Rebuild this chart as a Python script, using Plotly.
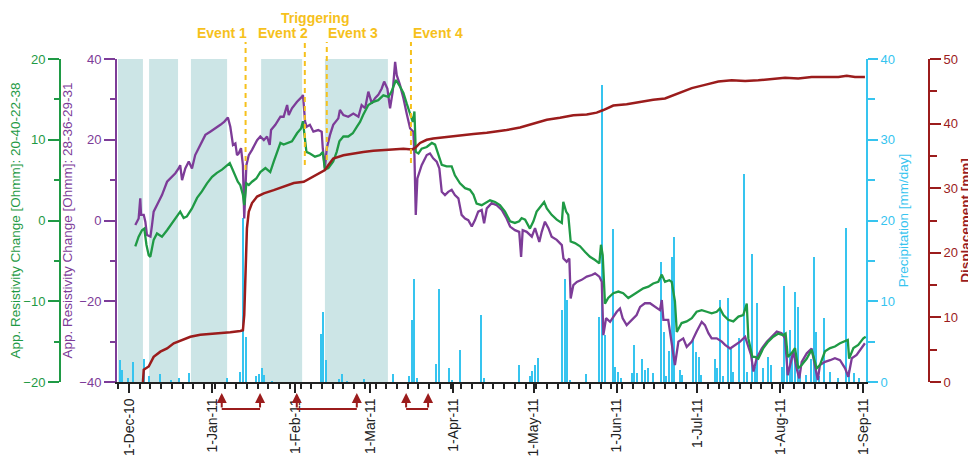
import pandas as pd
import plotly.graph_objects as go

# days counted from 1-Dec-10
BASE = pd.Timestamp("2010-12-01")
DAY_MS = 86400000

PURPLE = "#7d3c98"
GREEN = "#1f9a45"
CYAN = "#36c4ef"
RED = "#9b1c1c"
GOLD = "#f6c11c"
SHADE = "#cce5e6"

# App. resistivity change 28-36-29-31 (left inner axis)
purple = [
    (2.35, -1.1), (3.6, 0.5), (4.2, 5.5), (4.5, 1.4), (5.5, 1.4), (6.1, -0.3), (6.7, -3.6), (8.0, -4.0), (8.6, -1.1), (9.2, 2.2),
    (11.1, 4.7), (12.3, 6.3), (14.2, 9.6), (15.4, 10.4), (17.3, 11.7), (18.5, 12.9), (19.1, 13.7), (19.8, 10.0), (21.0, 12.9), (22.3, 14.6),
    (23.5, 12.9), (24.7, 16.2), (26.6, 18.7), (28.5, 21.2), (30.3, 22.0), (32.2, 22.8), (34.1, 23.7), (35.6, 24.5), (36.9, 25.5), (37.8, 23.2),
    (38.8, 18.7), (39.7, 19.1), (40.3, 16.2), (40.9, 16.6), (41.8, 17.9), (42.5, 13.7), (43.0, 0.5), (43.8, 13.7), (44.7, 16.2), (45.9, 17.5),
    (47.8, 19.9), (49.0, 20.8), (50.3, 19.9), (51.5, 20.8), (52.5, 18.7), (53.0, 22.4), (54.6, 23.7), (56.5, 25.7), (57.7, 25.7), (59.0, 28.6),
    (59.6, 26.1), (60.8, 27.8), (62.7, 29.4), (64.6, 30.7), (64.9, 31.1), (65.7, 24.5), (66.3, 23.2), (67.5, 23.7), (68.8, 22.0), (70.6, 22.4),
    (71.9, 22.0), (72.3, 17.9), (73.1, 12.9), (73.8, 17.9), (75.0, 21.2), (76.2, 23.7), (78.1, 25.3), (78.7, 27.4), (80.0, 26.1), (81.8, 25.7),
    (83.7, 26.5), (85.6, 25.7), (86.8, 28.6), (88.1, 27.8), (89.3, 31.9), (90.6, 29.0), (91.8, 30.3), (93.0, 31.1), (94.3, 32.7), (95.2, 34.4),
    (96.4, 32.7), (97.4, 27.8), (98.4, 31.9), (99.3, 39.3), (99.9, 36.0), (101.1, 33.6), (102.4, 30.3), (103.6, 26.5), (104.9, 22.8), (106.1, 22.0),
    (106.5, 16.2), (107.0, 1.4), (107.6, 10.4), (109.2, 13.7), (111.1, 16.2), (112.3, 16.6), (113.5, 15.4), (114.8, 14.6), (115.8, 12.9), (116.7, 7.1),
    (117.9, 6.3), (119.1, 7.1), (120.4, 7.6), (121.6, 6.3), (122.9, 5.5), (124.1, 1.4), (125.4, 0.5), (126.6, 0.1), (127.9, -1.5), (129.1, 0.1),
    (130.3, 2.2), (131.6, 2.6), (132.5, -0.7), (133.5, 3.0), (135.3, 4.3), (137.2, 3.8), (139.1, 2.6), (140.9, 0.5), (142.2, -1.5), (144.0, -2.4),
    (145.6, -2.8), (146.3, -9.0), (146.9, -2.4), (148.4, -2.8), (150.3, -4.0), (151.5, -1.9), (153.1, -5.3), (154.0, -2.8), (155.2, -0.3), (156.5, -1.9),
    (157.7, -4.0), (159.6, -4.8), (161.5, -6.1), (162.1, -9.4), (163.3, -10.2), (164.3, -9.4), (164.8, -19.3), (165.8, -16.0), (167.1, -15.2), (168.9, -14.7),
    (170.8, -13.9), (172.7, -13.5), (173.9, -13.1), (175.5, -13.9), (176.4, -15.2), (177.0, -28.4), (178.0, -24.2), (179.5, -25.1), (180.7, -23.8), (182.0, -22.6),
    (183.2, -21.8), (184.2, -24.2), (185.7, -25.9), (187.6, -24.6), (189.4, -23.4), (190.7, -21.4), (192.5, -20.5), (194.4, -20.5), (196.3, -21.4), (198.1, -22.2),
    (198.8, -19.7), (199.4, -24.6), (201.2, -24.6), (202.5, -30.0), (203.7, -35.8), (205.0, -30.0), (206.8, -29.2), (208.1, -31.3), (210.0, -30.0), (211.8, -27.5),
    (213.7, -25.1), (214.9, -25.9), (216.2, -27.9), (217.4, -29.2), (219.3, -29.2), (221.2, -30.0), (222.4, -30.8), (224.3, -31.7), (226.1, -30.8), (228.0, -30.0),
    (229.9, -28.8), (230.9, -30.8), (232.1, -33.3), (233.0, -37.4), (234.2, -34.1), (236.1, -31.7), (238.0, -30.0), (239.8, -28.8), (241.7, -27.5), (243.5, -27.9),
    (244.8, -29.2), (245.8, -38.3), (246.6, -36.2), (247.9, -32.5), (249.1, -36.6), (250.1, -39.1), (251.0, -35.0), (252.9, -32.9), (254.7, -31.7), (256.0, -36.6),
    (257.0, -39.5), (257.8, -35.8), (259.7, -35.0), (261.6, -34.6), (263.4, -34.1), (265.3, -34.6), (267.2, -36.6), (268.4, -38.7), (269.7, -34.1), (271.5, -33.3),
    (273.4, -31.7), (274.6, -30.4),
]

# App. resistivity change 20-40-22-38 (left outer axis)
green = [
    (2.35, -3.2), (3.6, -2.0), (4.85, -1.2), (5.7, -1.0), (6.5, -3.0), (7.35, -4.3), (7.95, -4.5), (9.2, -2.4), (10.45, -1.6), (12.3, -2.0),
    (14.2, -1.2), (16.0, -0.3), (17.9, 0.5), (19.1, 1.1), (20.4, 0.3), (21.6, 0.5), (23.5, 1.5), (25.4, 2.8), (27.2, 3.6), (29.1, 4.6),
    (31.0, 5.4), (32.8, 5.9), (34.7, 6.3), (36.6, 6.9), (37.6, 7.1), (38.4, 6.5), (39.7, 5.6), (40.6, 4.8), (41.5, 4.4), (42.5, 3.2),
    (43.0, 1.9), (43.8, 4.6), (44.7, 4.4), (45.9, 4.8), (47.5, 5.2), (49.0, 6.0), (50.9, 6.5), (52.7, 6.0), (54.0, 7.3), (55.5, 8.7),
    (56.5, 9.6), (57.7, 9.4), (59.0, 9.6), (60.8, 9.8), (62.7, 10.8), (64.2, 11.4), (64.9, 12.3), (65.75, 10.2), (66.2, 8.5), (67.5, 8.3),
    (69.4, 7.9), (71.3, 8.1), (72.3, 8.5), (73.1, 6.3), (74.4, 6.5), (76.2, 7.3), (77.5, 8.5), (78.5, 9.8), (80.0, 10.4), (81.8, 10.4),
    (83.5, 10.8), (85.0, 11.6), (86.2, 12.2), (87.4, 13.1), (89.3, 14.3), (91.2, 14.7), (93.0, 14.9), (94.9, 15.5), (96.8, 15.3), (98.0, 16.0),
    (99.6, 17.4), (101.1, 16.6), (102.4, 15.8), (103.6, 14.5), (104.9, 13.1), (105.9, 12.2), (106.5, 13.5), (107.0, 8.5), (108.0, 8.3), (109.2, 8.9),
    (111.1, 9.1), (113.0, 9.6), (114.2, 9.4), (115.4, 8.1), (116.7, 6.9), (118.5, 6.7), (120.4, 6.7), (121.6, 5.6), (123.5, 4.6), (125.4, 4.0),
    (127.2, 3.8), (128.5, 3.2), (129.7, 2.1), (131.6, 1.9), (133.5, 2.3), (134.7, 2.5), (136.6, 2.3), (138.4, 1.9), (140.3, 1.1), (142.2, -0.1),
    (144.0, -0.3), (145.6, -0.1), (146.5, 0.3), (147.8, 0.1), (149.6, -1.0), (150.9, -0.1), (152.1, 1.1), (153.4, 1.7), (154.9, 2.3), (155.9, 1.5),
    (157.7, 0.7), (159.6, 0.1), (161.5, -0.3), (162.05, 2.3), (163.1, 1.1), (163.9, 0.7), (164.8, -2.6), (166.4, -2.8), (168.3, -3.2), (170.2, -3.9),
    (172.0, -4.5), (173.9, -4.9), (175.5, -5.3), (176.1, -3.0), (176.75, -4.3), (177.6, -10.3), (178.8, -9.6), (180.7, -9.0), (182.6, -8.8), (184.4, -9.0),
    (186.3, -9.6), (188.2, -9.2), (190.0, -8.8), (191.9, -8.4), (193.8, -8.2), (195.6, -7.8), (197.5, -7.6), (198.8, -6.7), (200.0, -7.6), (201.6, -7.4),
    (202.5, -7.6), (203.7, -10.0), (204.4, -13.8), (206.2, -12.7), (208.1, -12.5), (210.0, -12.1), (211.8, -11.3), (213.7, -11.1), (215.6, -11.3), (217.4, -11.5),
    (219.3, -11.3), (220.5, -10.9), (221.8, -11.7), (223.6, -12.3), (225.5, -12.5), (227.4, -11.9), (229.2, -11.7), (230.5, -10.3), (231.1, -14.6), (232.6, -16.9),
    (233.6, -16.9), (234.8, -17.1), (236.7, -15.8), (238.5, -15.0), (240.4, -14.4), (242.3, -14.0), (244.1, -14.2), (245.0, -14.0), (245.8, -16.9), (247.3, -16.4),
    (248.5, -15.8), (249.7, -18.3), (251.0, -17.9), (252.9, -17.1), (254.7, -16.0), (256.6, -18.3), (257.8, -17.9), (259.7, -16.2), (261.6, -15.8), (263.4, -15.6),
    (265.3, -15.2), (267.2, -15.0), (268.2, -14.8), (268.7, -17.1), (270.3, -15.8), (272.1, -15.4), (274.0, -14.6), (274.9, -14.4),
]

# displacement [mm] (right outer axis)
red = [
    (5.2, 0.0), (5.5, 1.9), (7.35, 2.4), (9.2, 3.9), (11.7, 4.7), (14.2, 5.2), (16.7, 6.0), (19.8, 6.5), (22.9, 7.0), (26.6, 7.3),
    (30.3, 7.4), (34.1, 7.5), (37.8, 7.7), (41.5, 7.9), (42.5, 8.0), (43.0, 10.4), (43.4, 17.1), (44.0, 23.8), (44.7, 26.4), (45.9, 27.7),
    (47.8, 28.7), (50.3, 29.2), (54.0, 29.7), (57.7, 30.2), (61.5, 30.8), (65.2, 31.0), (68.8, 31.8), (71.3, 32.3), (73.1, 32.8), (74.4, 33.6),
    (76.2, 34.6), (80.0, 35.1), (83.7, 35.4), (87.4, 35.6), (91.2, 35.8), (94.9, 35.9), (98.6, 36.0), (102.4, 36.1), (105.5, 36.0), (106.7, 36.2),
    (108.6, 37.0), (111.1, 37.5), (113.5, 37.7), (117.3, 37.9), (121.0, 38.1), (124.7, 38.2), (128.5, 38.4), (133.5, 38.6), (135.9, 38.7), (140.9, 39.0),
    (145.9, 39.4), (150.9, 40.0), (155.9, 40.6), (160.8, 40.9), (165.8, 41.3), (170.8, 41.4), (174.5, 41.7), (177.0, 42.1), (180.7, 42.8), (185.7, 43.0),
    (190.7, 43.4), (195.6, 43.7), (200.0, 43.9), (205.0, 44.7), (210.0, 45.5), (214.9, 46.0), (219.9, 46.5), (224.9, 46.7), (229.9, 46.6), (234.8, 46.7),
    (239.8, 46.9), (244.8, 47.1), (249.7, 47.0), (254.7, 47.2), (259.7, 47.2), (264.7, 47.2), (267.8, 47.4), (270.9, 47.2), (274.6, 47.2),
]

# daily precipitation [mm/day]
rain = [
    (-4, 2.7), (-3, 1.5), (-1, 0.5), (1, 2.5), (5, 2.8), (7, 0.8), (11, 1.0), (15, 0.2), (18, 0.5), (22, 1.1),
    (36, 0.5), (41, 1.3), (42, 20.3), (43, 5.6), (47, 0.7), (48, 1.0), (49, 1.7), (50, 0.9), (53, 0.1), (71, 6.0),
    (72, 8.7), (73, 2.7), (78, 0.4), (79, 1.0), (81, 0.1), (87, 0.4), (98, 1.0), (104, 0.8), (105, 7.7), (106, 12.8),
    (107, 0.5), (114, 2.2), (115, 11.5), (119, 1.7), (120, 0.2), (123, 4.0), (131, 8.3), (132, 0.5), (145, 2.1), (149, 0.7),
    (150, 1.4), (151, 2.1), (152, 3.0), (161, 8.9), (162, 12.8), (163, 10.2), (164, 0.2), (170, 1.0), (175, 8.1), (176, 36.8),
    (177, 5.8), (180, 19.0), (181, 1.9), (182, 1.3), (183, 0.5), (187, 1.1), (188, 4.6), (189, 1.1), (191, 2.9), (192, 1.5),
    (193, 1.7), (195, 1.1), (198, 14.8), (199, 6.2), (200, 0.7), (201, 3.8), (202, 15.5), (203, 17.9), (205, 1.5), (206, 0.9),
    (210, 5.2), (211, 3.7), (212, 3.1), (213, 0.9), (218, 2.9), (219, 1.7), (220, 10.2), (221, 0.7), (223, 10.4), (224, 4.2),
    (225, 1.3), (227, 5.4), (229, 25.8), (230, 1.3), (232, 15.8), (233, 1.9), (234, 9.8), (236, 1.7), (238, 3.1), (239, 2.1),
    (243, 1.9), (244, 11.9), (245, 4.5), (246, 6.4), (247, 3.3), (248, 11.1), (249, 9.3), (250, 1.5), (252, 0.9), (254, 2.9),
    (255, 15.5), (256, 6.2), (257, 0.7), (259, 7.9), (261, 1.3), (264, 0.5), (267, 19.1), (268, 1.5), (270, 1.1), (272, 0.5),
]

# shaded periods and events
shade_periods = [(-4.1, 5.2), (7.5, 18.3), (23.1, 36.6), (49.3, 64.6), (73.1, 96.6)]
event_names = ["Event 1", "Event 2", "Event 3", "Event 4"]
event_days = [43.5, 65.6, 73.8, 105.2]
event_line_bottom = [0.656, 0.672, 0.687, 0.678]
bracket_spans = [(34.6, 48.9), (62.6, 85.0), (103.4, 111.6)]


def to_dates(days):
    return BASE + pd.to_timedelta(list(days), unit="D")


def split(pairs):
    return to_dates([p[0] for p in pairs]), [p[1] for p in pairs]


fig = go.Figure()

rx, ry = split(rain)
fig.add_trace(go.Bar(x=rx, y=ry, yaxis="y", marker_color=CYAN, marker_line_width=0,
                     width=0.75 * DAY_MS, xperiod=DAY_MS, xperiodalignment="middle"))

px_, py_ = split(purple)
fig.add_trace(go.Scatter(x=px_, y=py_, yaxis="y2", mode="lines", line=dict(color=PURPLE, width=2.3)))

gx, gy = split(green)
fig.add_trace(go.Scatter(x=gx, y=gy, yaxis="y3", mode="lines", line=dict(color=GREEN, width=2.3)))

dx, dy = split(red)
fig.add_trace(go.Scatter(x=dx, y=dy, yaxis="y4", mode="lines", line=dict(color=RED, width=2.5)))

shapes = []
for a, b in shade_periods:
    xa, xb = to_dates([a, b])
    shapes.append(dict(type="rect", xref="x", yref="paper", x0=xa, x1=xb, y0=0, y1=1,
                       fillcolor=SHADE, line_width=0, layer="below"))

annotations = []
ev_dates = to_dates(event_days)
anchors = [("right", 3), ("right", 5), ("left", -1), ("left", 0)]
for name, d, bot, (anc, shift) in zip(event_names, ev_dates, event_line_bottom, anchors):
    shapes.append(dict(type="line", xref="x", yref="paper", x0=d, x1=d, y0=bot, y1=1.053,
                       line=dict(color=GOLD, width=2, dash="5px,4px")))
    annotations.append(dict(x=d, y=1.081, xref="x", yref="paper", text="<b>%s</b>" % name,
                            showarrow=False, xanchor=anc, yanchor="middle", xshift=shift,
                            font=dict(size=14, color=GOLD)))
annotations.append(dict(x=to_dates([69.4])[0], y=1.157, xref="x", yref="paper", text="<b>Triggering</b>",
                        showarrow=False, xanchor="center", yanchor="top",
                        font=dict(size=14, color=GOLD)))

for a, b in bracket_spans:
    xa, xb = to_dates([a, b])
    shapes.append(dict(type="line", xref="x", yref="paper", x0=xa, x1=xb, y0=-0.0836, y1=-0.0836,
                       line=dict(color=RED, width=2)))
    for xx in (xa, xb):
        annotations.append(dict(x=xx, y=-0.034, xref="x", yref="paper", text="", showarrow=True,
                                ax=0, ay=16, arrowhead=2, arrowsize=1, arrowwidth=2, arrowcolor=RED))

FONT = "Liberation Sans, Arial, sans-serif"


def yax(color, rng, dtick, minor, side, title, ticklen, minorlen, standoff=4, **kw):
    d = dict(range=rng, dtick=dtick, side=side, showgrid=False, zeroline=False,
             showline=True, linecolor=color, linewidth=2, ticks="outside", ticklen=ticklen,
             tickwidth=2, tickcolor=color, tickfont=dict(size=13, color=color, family=FONT),
             minor=dict(dtick=minor, ticks="outside", ticklen=minorlen, tickwidth=2,
                        tickcolor=color, showgrid=False),
             title=dict(text=title, font=dict(size=13.5, color=color, family=FONT), standoff=standoff),
             automargin=False)
    d.update(kw)
    return d


# the page body has an 8px margin, so the figure is 8px smaller than the window
fig.update_layout(
    template="none",
    width=968, height=454,
    margin=dict(l=12, r=12, t=51, b=80),
    paper_bgcolor="white", plot_bgcolor="white",
    showlegend=False, bargap=0,
    font=dict(family=FONT, size=13),
    xaxis=dict(
        domain=[0.10275, 0.8962], anchor="y", type="date",
        range=[BASE - pd.Timedelta(days=4.48), BASE + pd.Timedelta(days=275)],
        dtick="M1", tick0="2010-12-01", tickformat="%-d-%b-%y", tickangle=-90,
        ticks="outside", ticklen=9, tickwidth=1.5, tickcolor="#222",
        tickfont=dict(size=14, color="#222", family=FONT),
        minor=dict(dtick=4 * DAY_MS, tick0="2010-12-01", ticks="outside", ticklen=5,
                   tickwidth=1.5, tickcolor="#222", showgrid=False),
        showline=True, linecolor="#222", linewidth=1.5, showgrid=False, zeroline=False,
        automargin=False,
    ),
    yaxis=yax(CYAN, [0, 40], 10, 5, "right", "Precipitation [mm/day]", 10, 7, anchor="x"),
    yaxis2=yax(PURPLE, [-40, 40], 20, 10, "left", "App. Resistivity Change [Ohmm]: 28-36-29-31", 11, 5,
               anchor="x", overlaying="y"),
    yaxis3=yax(GREEN, [-20, 20], 10, 5, "left", "App. Resistivity Change [Ohmm]: 20-40-22-38", 11, 5,
               anchor="free", position=0.04237, overlaying="y"),
    yaxis4=yax(RED, [0, 50], 10, 5, "right", "<b>Displacement [mm]</b>", 11, 7, standoff=1,
               anchor="free", position=0.96292, overlaying="y"),
    shapes=shapes,
    annotations=annotations,
)

fig.write_html("out.html")
